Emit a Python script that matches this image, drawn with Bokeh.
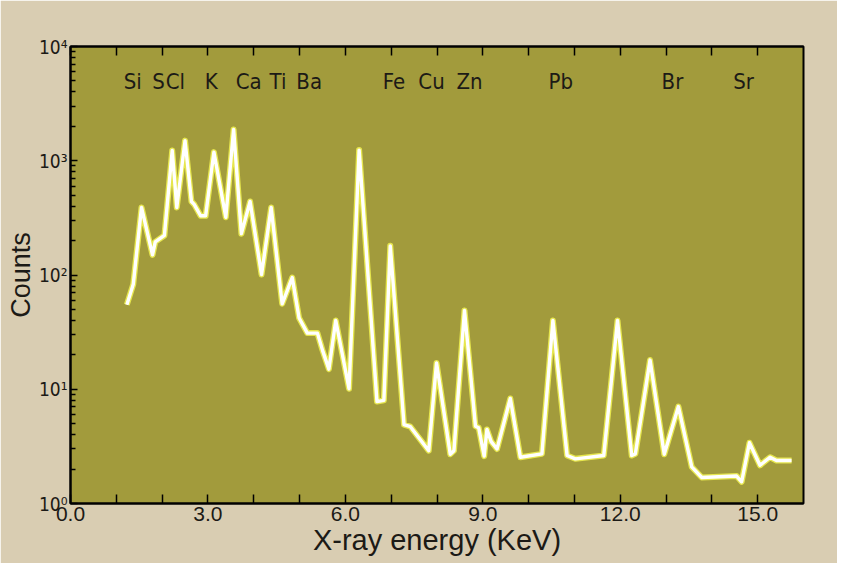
from bokeh.plotting import figure
from bokeh.models import LinearAxis, FixedTicker, Range1d
from bokeh.core.properties import value
from bokeh.embed import file_html
from bokeh.resources import INLINE

# ---- data ----
energy = [1.23, 1.37, 1.55, 1.79, 1.85, 2.05, 2.22, 2.32, 2.50, 2.64, 2.70, 2.84, 2.95,
          3.13, 3.39, 3.56, 3.73, 3.92, 4.17, 4.38, 4.62, 4.84, 4.99, 5.17, 5.39, 5.50,
          5.64, 5.79, 6.08, 6.30, 6.69, 6.84, 6.98, 7.28, 7.42, 7.82, 7.99, 8.29, 8.37,
          8.60, 8.84, 8.91, 9.03, 9.09, 9.18, 9.31, 9.60, 9.82, 10.29, 10.53, 10.84,
          11.02, 11.64, 11.94, 12.25, 12.33, 12.65, 12.96, 13.27, 13.56, 13.78, 14.54,
          14.65, 14.82, 15.05, 15.27, 15.41, 15.74]
counts = [55, 83, 390, 150, 195, 222, 1230, 390, 1500, 440, 415, 330, 330,
          1190, 320, 1880, 230, 440, 101, 390, 56, 95, 42, 31, 31, 22,
          15, 40, 10.1, 1240, 7.8, 8.0, 180, 4.9, 4.7, 2.9, 17, 2.7, 2.9,
          49, 4.75, 4.6, 2.6, 4.45, 3.5, 3.0, 8.3, 2.54, 2.72, 40, 2.63,
          2.46, 2.63, 40, 2.63, 2.72, 18, 2.7, 7.05, 2.09, 1.69, 1.74,
          1.55, 3.4, 2.16, 2.54, 2.38, 2.38]

elements = ["Si", "S", "Cl", "K", "Ca", "Ti", "Ba", "Fe", "Cu", "Zn", "Pb", "Br", "Sr"]
element_energy = [1.36, 1.92, 2.29, 3.07, 3.89, 4.53, 5.21, 7.06, 7.88, 8.71, 10.70, 13.14, 14.69]
element_level = 4900

x_ticks = list(range(0, 16))
x_labelled = [0, 3, 6, 9, 12, 15]
y_ticks = [1, 10, 100, 1000, 10000]
y_tick_labels = ["10\u2070", "10\u00b9", "10\u00b2", "10\u00b3", "10\u2074"]
y_minor = [m * d for d in [1, 10, 100, 1000] for m in range(2, 10)]

OLIVE = "#a29b3c"
BEIGE = "#d9cdb2"
INK = "#1c1a16"
NARROW = "DejaVu Sans Condensed, Liberation Sans"
SANS = "Liberation Sans"

p = figure(width=837, height=563, x_range=Range1d(0, 16), y_range=Range1d(1, 10000),
           y_axis_type="log", output_backend="svg", toolbar_location=None,
           min_border_left=70, min_border_top=46, min_border_right=34, min_border_bottom=60)

p.background_fill_color = OLIVE
p.border_fill_color = BEIGE
p.outline_line_color = "black"
p.outline_line_width = 2
p.xgrid.visible = False
p.ygrid.visible = False

# bottom axis
xa = p.xaxis[0]
xa.ticker = FixedTicker(ticks=x_ticks)
xa.major_label_overrides = {t: (f"{t:.1f}" if t in x_labelled else "") for t in x_ticks}
xa.major_tick_in = 9
xa.major_tick_out = 0
xa.minor_tick_in = 0
xa.minor_tick_out = 0
xa.axis_line_color = "black"
xa.axis_line_width = 2
xa.major_tick_line_color = "black"
xa.major_tick_line_width = 1.5
xa.major_label_text_font = SANS
xa.major_label_text_font_size = "21px"
xa.major_label_text_color = INK
xa.major_label_standoff = 3
xa.axis_label = "X-ray energy (KeV)"
xa.axis_label_text_font = SANS
xa.axis_label_text_font_size = "29px"
xa.axis_label_text_font_style = "normal"
xa.axis_label_text_color = INK
xa.axis_label_standoff = 0

# left axis
ya = p.yaxis[0]
ya.ticker = FixedTicker(ticks=y_ticks, minor_ticks=y_minor)
ya.major_label_overrides = dict(zip(y_ticks, y_tick_labels))
ya.major_tick_in = 7
ya.major_tick_out = 0
ya.minor_tick_in = 5
ya.minor_tick_out = 0
ya.axis_line_color = "black"
ya.axis_line_width = 2
ya.major_tick_line_color = "black"
ya.major_tick_line_width = 1.5
ya.minor_tick_line_color = "black"
ya.minor_tick_line_width = 1.5
ya.major_label_text_font = NARROW
ya.major_label_text_font_size = "19px"
ya.major_label_text_color = INK
ya.major_label_standoff = 3
ya.axis_label = "Counts"
ya.axis_label_text_font = SANS
ya.axis_label_text_font_size = "27px"
ya.axis_label_text_font_style = "normal"
ya.axis_label_text_color = INK
ya.axis_label_standoff = 0

# top axis with inward ticks only
top = LinearAxis(ticker=FixedTicker(ticks=x_ticks),
                 major_label_overrides={t: "" for t in x_ticks},
                 major_label_text_font_size="1px",
                 major_tick_in=9, major_tick_out=0, minor_tick_in=0, minor_tick_out=0,
                 axis_line_color="black", axis_line_width=2,
                 major_tick_line_color="black", major_tick_line_width=1.5,
                 major_label_standoff=0)
p.add_layout(top, "above")

# spectrum trace
p.line(energy, counts, line_color="#e6e64e", line_width=6, line_join="round")
p.line(energy, counts, line_color="white", line_width=3.4, line_join="round")

# element labels
p.text(x=element_energy, y=[element_level] * len(elements), text=elements,
       text_align="center", text_baseline="middle",
       text_font=value(NARROW), text_font_size="22px", text_color=INK)

open("out.html", "w").write(file_html(p, INLINE))
